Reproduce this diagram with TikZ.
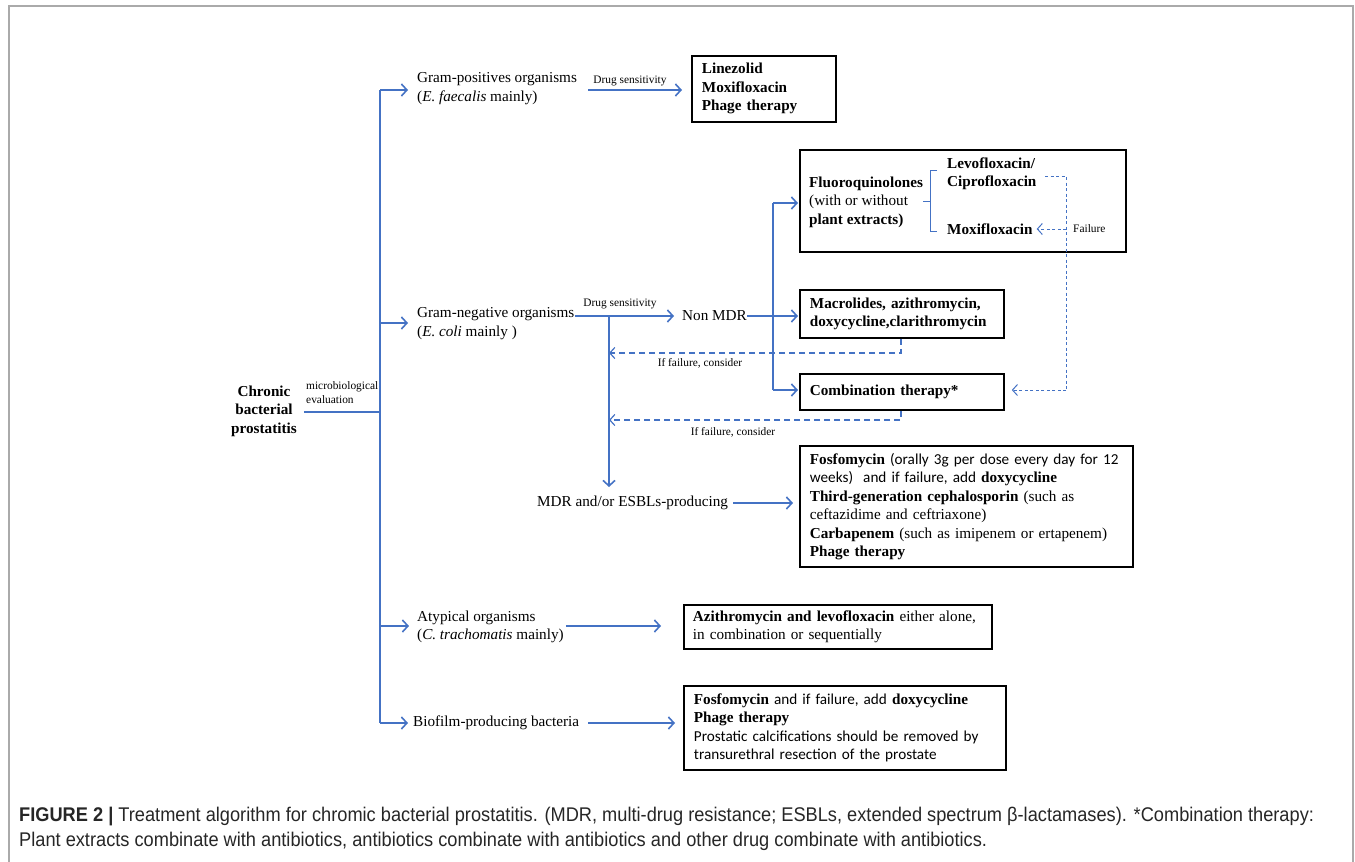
\documentclass[tikz,border=0pt]{standalone}
\usepackage{fontspec}
\setmainfont{Liberation Serif}
\newfontfamily\cfont{Carlito}
\newfontfamily\capfont{Liberation Sans}[FakeStretch=0.92]
\usetikzlibrary{arrows.meta}
\definecolor{myblue}{RGB}{68,114,196}
\definecolor{framegray}{RGB}{170,170,170}
\newcommand\fsz{\fontsize{15.2}{18.5}\selectfont}
\newcommand\ssz{\fontsize{11.4}{14}\selectfont}
\begin{document}
\begin{tikzpicture}[x=1pt,y=-1pt,
  txt/.style={font=\fsz, inner sep=0pt, align=left},
  btxt/.style={font=\fsz\bfseries, inner sep=0pt, align=left},
  sml/.style={font=\ssz, inner sep=0pt, align=left},
  box/.style={draw=black, line width=1.8pt, inner ysep=0pt, inner xsep=10pt, align=left, font=\fsz, anchor=north west},
  conn/.style={draw=myblue, line width=1.7pt},
  arr/.style={conn, -{Straight Barb[length=5.5pt,width=12pt,line width=1.6pt]}},
  dsh/.style={draw=myblue, line width=1.2pt, dash pattern=on 6pt off 4pt},
  dsha/.style={dsh, -{Straight Barb[length=5pt,width=11pt,line width=1.2pt]}},
  dshf/.style={draw=myblue, line width=1pt, dash pattern=on 3pt off 2.5pt},
  dshfa/.style={dshf, -{Straight Barb[length=5pt,width=11pt,line width=1pt]}},
  brace/.style={draw=myblue, line width=1pt}
]
\useasboundingbox (0,0) rectangle (1355,862);
\draw[framegray, line width=1.2pt] (9,862) -- (9,6) -- (1353,6) -- (1353,862);

% root
\node[btxt, align=center] (cbp) at (264,411) {Chronic\\bacterial\\prostatitis};
\node[sml, anchor=west] (me) at (306,393) {microbiological\\evaluation};
\coordinate (tm) at (380,412);
\coordinate (t1) at (380,90);
\coordinate (t2) at (380,323);
\coordinate (t4) at (380,626);
\coordinate (t5) at (380,723);
\draw[conn] ([xshift=7pt]cbp.east |- tm) -- (tm);
\draw[conn] (t1) -- (t5);

% categories
\node[txt, anchor=west] (gp) at (417,88.5) {Gram-positives organisms\\(\textit{E. faecalis} mainly)};
\node[txt, anchor=west] (gn1) at (417,314) {Gram-negative organisms};
\node[txt, anchor=west] (gn2) at (417,333) {(\textit{E. coli} mainly )};
\node[txt, anchor=west] (at) at (417,627) {Atypical organisms\\(\textit{C. trachomatis} mainly)};
\node[txt, anchor=west] (bf) at (413,723) {Biofilm-producing bacteria};

\draw[arr] (t1) -- ([xshift=-9pt]t1 -| gp.west);
\draw[arr] (t2) -- ([xshift=-9pt]t2 -| gn1.west);
\draw[arr] (t4) -- ([xshift=-8pt]t4 -| at.west);
\draw[arr] (t5) -- ([xshift=-5pt]t5 -| bf.west);

% gram positive
\node[box, minimum width=144pt, minimum height=66pt, text width=124pt, font=\fsz\bfseries] (bx1) at (691,55) {Linezolid\\Moxifloxacin\\Phage therapy};
\coordinate (g1) at (588,90);
\draw[arr] (g1) -- ([xshift=-9pt]g1 -| bx1.west);
\node[sml] (ds1) at (630,81) {Drug sensitivity};

% gram negative
\node[txt, anchor=west] (nm) at (682,316) {Non MDR};
\coordinate (b1) at (609,316);
\coordinate (b2) at (773,316);
\draw[arr] (gn1.east |- b1) -- ([xshift=-8pt]b1 -| nm.west);
\node[sml] (ds2) at (620,304) {Drug sensitivity};

% box 2
\node[box, minimum width=326pt, minimum height=102pt] (bx2) at (799,149) {};
\node[txt, anchor=west] (fq) at (809,202) {\textbf{Fluoroquinolones}\\(with or without\\\textbf{plant extracts)}};
\node[btxt, anchor=west] (lc) at (947,174) {Levofloxacin/\\Ciprofloxacin};
\node[btxt, anchor=west] (mx) at (947,229) {Moxifloxacin};
\draw[brace] (937,170) -- (930,170) -- (930,231) -- (937,231);
\draw[brace] (fq.east |- 0,201) -- (930,201);

% box 3, 4
\node[box, minimum width=204pt, minimum height=48pt, text width=184pt, font=\fsz\bfseries] (bx3) at (799,289) {Macrolides, azithromycin,\\doxycycline,clarithromycin};
\node[box, minimum width=204pt, minimum height=36pt, text width=184pt, font=\fsz\bfseries] (bx4) at (799,373) {Combination therapy*};

\draw[conn] (nm.east) -- (b2);
\draw[arr] (b2) -- ([xshift=-1pt]b2 -| bx3.west);
\coordinate (b2t) at (773,203);
\coordinate (b2b) at (773,390);
\draw[conn] (b2t) -- (b2b);
\draw[arr] (b2t) -- ([xshift=-1pt]b2t -| bx2.west);
\draw[arr] (b2b) -- ([xshift=-1pt]b2b -| bx4.west);

% failure loop
\coordinate (fl1) at (1045,176);
\coordinate (fl2) at (1066,176);
\coordinate (fl3) at (1066,229);
\coordinate (fl4) at (1066,390);
\draw[dshf] (fl1) -- (fl2) -- (fl4);
\draw[dshfa] (fl3) -- ([xshift=4pt]fl3 -| mx.east);
\draw[dshfa] (fl4) -- ([xshift=7pt]fl4 -| bx4.east);
\node[sml, anchor=west] (fail) at (1073,229) {Failure};

% if failure
\coordinate (d1) at (901,353);
\coordinate (d2) at (901,420);
\draw[dsha] (d1 |- bx3.south) -- (d1) -- (b1 |- d1);
\draw[dsha] (d2 |- bx4.south) -- (d2) -- (b1 |- d2);
\node[sml] (if1) at (700,363) {If failure, consider};
\node[sml] (if2) at (733,432) {If failure, consider};

% MDR
\node[txt, anchor=west] (mdr) at (537,503) {MDR and/or ESBLs-producing};
\coordinate (b1d) at (609,487);
\draw[arr] (b1) -- (b1d);
\node[box, minimum width=333pt, minimum height=121pt, text width=313pt, inner xsep=10pt] (bx5) at (799,445) {\textbf{Fosfomycin} {\cfont (orally 3g per dose every day for 12}\\{\cfont weeks)~ and if failure, add} \textbf{doxycycline}\\\textbf{Third-generation cephalosporin} (such as\\ceftazidime and ceftriaxone)\\\textbf{Carbapenem} (such as imipenem or ertapenem)\\\textbf{Phage therapy}};
\draw[arr] ([xshift=5pt]mdr.east) -- ([xshift=-6pt]bx5.west |- mdr.east);

% atypical
\node[box, minimum width=308pt, minimum height=44pt, text width=290pt, inner xsep=9pt] (bx6) at (683,604) {\textbf{Azithromycin and levofloxacin} either alone,\\in combination or sequentially};
\draw[arr] ([xshift=2pt]at.east |- t4) -- ([xshift=-22pt]bx6.west |- t4);

% biofilm
\node[box, minimum width=322pt, minimum height=84pt, text width=302pt] (bx7) at (683,685) {\textbf{Fosfomycin} {\cfont and if failure, add} \textbf{doxycycline}\\\textbf{Phage therapy}\\{\cfont Prostatic calcifications should be removed by}\\{\cfont transurethral resection of the prostate}};
\draw[arr] ([xshift=9pt]bf.east) -- ([xshift=-8pt]bx7.west |- bf.east);

% caption
\node[anchor=north west, inner sep=0pt, align=left, text=black!85, font=\capfont\fontsize{19.8}{25}\selectfont] (cap) at (19,807) {\textbf{FIGURE 2 |} Treatment algorithm for chromic bacterial prostatitis. (MDR, multi-drug resistance; ESBLs, extended spectrum β-lactamases). *Combination therapy:\\Plant extracts combinate with antibiotics, antibiotics combinate with antibiotics and other drug combinate with antibiotics.};
\end{tikzpicture}
\end{document}
